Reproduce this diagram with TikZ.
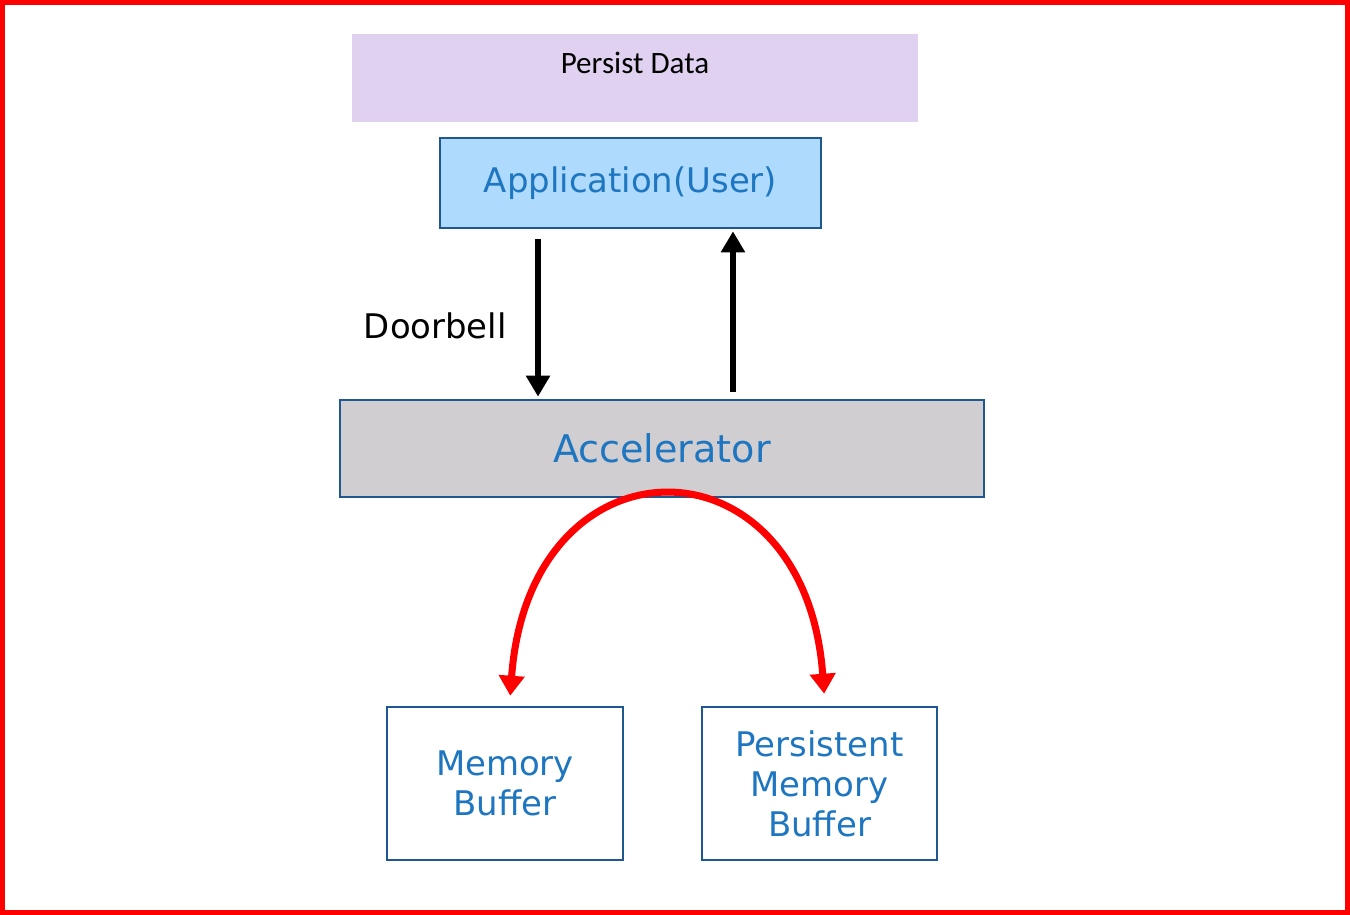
\documentclass[tikz,border=0pt]{standalone}
\usepackage{fontspec}
\setmainfont{DejaVu Sans}
\newfontfamily\calfont{Carlito}
\usetikzlibrary{arrows.meta,positioning}
\definecolor{frame}{RGB}{255,0,0}
\definecolor{lavender}{RGB}{225,209,241}
\definecolor{appfill}{RGB}{173,218,253}
\definecolor{accfill}{RGB}{208,206,208}
\definecolor{edge}{RGB}{31,87,145}
\definecolor{ink}{RGB}{30,118,192}

\begin{document}
\begin{tikzpicture}[x=0.02cm, y=-0.02cm,
  block/.style={draw=edge, line width=1.5pt, text=ink, align=center, inner sep=0pt,
                font=\fontsize{19.3}{22.7}\selectfont},
  flow/.style={line width=3.8pt, -{Triangle[width=0.46cm,length=0.42cm]}},
  arcline/.style={draw=frame, line width=4pt,
                  {Triangle[width=0.5cm,length=0.4cm]}-{Triangle[width=0.5cm,length=0.4cm]}},
]
\useasboundingbox (0,0) rectangle (1350,915);
\draw[frame, line width=0.1cm] (2.5,2.5) rectangle (1347.5,912.5);

% top layers
\node[fill=lavender, minimum width=11.32cm, inner ysep=0pt, text height=0.8cm, text depth=0.96cm,
      font=\calfont\fontsize{17.7}{21}\selectfont] (persist) at (635,78) {Persist Data};
\node[block, fill=appfill, minimum width=7.62cm, minimum height=1.8cm] (app) at (630.5,183) {Application(User)};
\node[block, fill=accfill, minimum width=12.88cm, minimum height=1.94cm,
      font=\fontsize{21.7}{26}\selectfont] (acc) at (662,448.5) {Accelerator};

% buffers
\node[block, fill=white, minimum width=4.72cm, minimum height=3.06cm] (mem) at (505,783.5) {Memory\\Buffer};
\node[block, fill=white, minimum width=4.7cm, minimum height=3.06cm] (pmem) at (819.5,783.5) {Persistent\\Memory\\Buffer};

% doorbell and reply
\draw[flow, shorten <=0.2cm, shorten >=0.04cm] ([xshift=-1.85cm]app.south) -- ([xshift=-1.85cm]app.south |- acc.north)
  node[pos=0.57, left=0.56cm, inner sep=0pt, font=\fontsize{19.3}{22.7}\selectfont] (bell) {Doorbell};
\draw[flow, shorten <=0.14cm, shorten >=0.04cm] ([xshift=2.05cm]app.south |- acc.north) -- ([xshift=2.05cm]app.south);

% accelerator to buffers
\draw[arcline, shorten <=0.2cm, shorten >=0.24cm] ([xshift=0.09cm]mem.north)
  .. controls +(0.4cm,5.5cm) and +(-0.4cm,5.5cm) .. ([xshift=0.11cm]pmem.north);
\end{tikzpicture}
\end{document}
